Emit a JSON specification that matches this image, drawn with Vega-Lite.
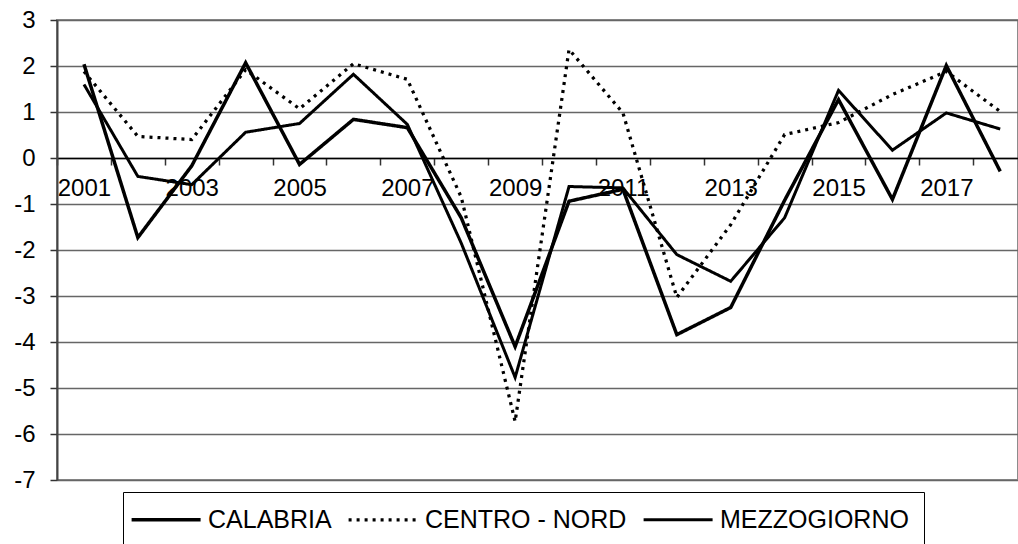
{
  "$schema": "https://vega.github.io/schema/vega-lite/v6.json",
  "autosize": {"type": "none"},
  "padding": {"left": 57, "top": 20, "right": 0, "bottom": 64},
  "width": 961,
  "height": 460,
  "background": "white",
  "config": {
    "font": "Liberation Sans",
    "view": {"stroke": "#8c8c8c", "strokeWidth": 2}
  },
  "data": {
    "values": [
      {"year": 2001, "series": "CALABRIA", "value": 2.04},
      {"year": 2002, "series": "CALABRIA", "value": -1.73},
      {"year": 2003, "series": "CALABRIA", "value": -0.17},
      {"year": 2004, "series": "CALABRIA", "value": 2.07},
      {"year": 2005, "series": "CALABRIA", "value": -0.14},
      {"year": 2006, "series": "CALABRIA", "value": 0.84},
      {"year": 2007, "series": "CALABRIA", "value": 0.66},
      {"year": 2008, "series": "CALABRIA", "value": -1.3},
      {"year": 2009, "series": "CALABRIA", "value": -4.1},
      {"year": 2010, "series": "CALABRIA", "value": -0.94},
      {"year": 2011, "series": "CALABRIA", "value": -0.68},
      {"year": 2012, "series": "CALABRIA", "value": -3.84},
      {"year": 2013, "series": "CALABRIA", "value": -3.25},
      {"year": 2014, "series": "CALABRIA", "value": -0.92},
      {"year": 2015, "series": "CALABRIA", "value": 1.27},
      {"year": 2016, "series": "CALABRIA", "value": -0.9},
      {"year": 2017, "series": "CALABRIA", "value": 2.01},
      {"year": 2018, "series": "CALABRIA", "value": -0.29},
      {"year": 2001, "series": "CENTRO - NORD", "value": 1.88},
      {"year": 2002, "series": "CENTRO - NORD", "value": 0.47},
      {"year": 2003, "series": "CENTRO - NORD", "value": 0.4},
      {"year": 2004, "series": "CENTRO - NORD", "value": 1.92},
      {"year": 2005, "series": "CENTRO - NORD", "value": 1.07},
      {"year": 2006, "series": "CENTRO - NORD", "value": 2.05},
      {"year": 2007, "series": "CENTRO - NORD", "value": 1.71},
      {"year": 2008, "series": "CENTRO - NORD", "value": -0.85},
      {"year": 2009, "series": "CENTRO - NORD", "value": -5.73},
      {"year": 2010, "series": "CENTRO - NORD", "value": 2.36},
      {"year": 2011, "series": "CENTRO - NORD", "value": 0.98},
      {"year": 2012, "series": "CENTRO - NORD", "value": -3.03},
      {"year": 2013, "series": "CENTRO - NORD", "value": -1.45},
      {"year": 2014, "series": "CENTRO - NORD", "value": 0.51},
      {"year": 2015, "series": "CENTRO - NORD", "value": 0.77},
      {"year": 2016, "series": "CENTRO - NORD", "value": 1.38},
      {"year": 2017, "series": "CENTRO - NORD", "value": 1.88},
      {"year": 2018, "series": "CENTRO - NORD", "value": 1.01},
      {"year": 2001, "series": "MEZZOGIORNO", "value": 1.6},
      {"year": 2002, "series": "MEZZOGIORNO", "value": -0.4},
      {"year": 2003, "series": "MEZZOGIORNO", "value": -0.58},
      {"year": 2004, "series": "MEZZOGIORNO", "value": 0.56},
      {"year": 2005, "series": "MEZZOGIORNO", "value": 0.75},
      {"year": 2006, "series": "MEZZOGIORNO", "value": 1.82},
      {"year": 2007, "series": "MEZZOGIORNO", "value": 0.73},
      {"year": 2008, "series": "MEZZOGIORNO", "value": -1.85},
      {"year": 2009, "series": "MEZZOGIORNO", "value": -4.77},
      {"year": 2010, "series": "MEZZOGIORNO", "value": -0.62},
      {"year": 2011, "series": "MEZZOGIORNO", "value": -0.65},
      {"year": 2012, "series": "MEZZOGIORNO", "value": -2.1},
      {"year": 2013, "series": "MEZZOGIORNO", "value": -2.68},
      {"year": 2014, "series": "MEZZOGIORNO", "value": -1.3},
      {"year": 2015, "series": "MEZZOGIORNO", "value": 1.47},
      {"year": 2016, "series": "MEZZOGIORNO", "value": 0.17},
      {"year": 2017, "series": "MEZZOGIORNO", "value": 0.98},
      {"year": 2018, "series": "MEZZOGIORNO", "value": 0.63}
    ]
  },
  "resolve": {"axis": {"x": "independent"}},
  "layer": [
    {
      "mark": {"type": "rule", "strokeOpacity": 0},
      "encoding": {
        "x": {
          "field": "year",
          "type": "quantitative",
          "scale": {"domain": [2000.5, 2018.33], "nice": false, "zero": false},
          "axis": {
            "title": null,
            "orient": "bottom",
            "values": [2000.5, 2001.5, 2002.5, 2003.5, 2004.5, 2005.5, 2006.5, 2007.5, 2008.5, 2009.5, 2010.5, 2011.5, 2012.5, 2013.5, 2014.5, 2015.5, 2016.5, 2017.5],
            "labels": false,
            "offset": -322,
            "domain": false,
            "tickColor": "#333333",
            "tickSize": 7,
            "tickWidth": 1.5,
            "grid": false
          }
        }
      }
    },
    {
      "mark": {"type": "line", "color": "black", "strokeCap": "butt", "strokeJoin": "miter"},
      "encoding": {
        "x": {
          "field": "year",
          "type": "quantitative",
          "scale": {"domain": [2000.5, 2018.33], "nice": false, "zero": false},
          "axis": {
            "title": null,
            "orient": "bottom",
            "values": [2001, 2003, 2005, 2007, 2009, 2011, 2013, 2015, 2017],
            "labelExpr": "'' + datum.value",
            "offset": -322,
            "domainColor": "black",
            "domainWidth": 1.5,
            "ticks": false,
            "labelFontSize": 24,
            "labelColor": "black",
            "labelPadding": 18,
            "labelOverlap": false,
            "labelFlush": false,
            "grid": false
          }
        },
        "y": {
          "field": "value",
          "type": "quantitative",
          "scale": {"domain": [-7, 3], "nice": false, "zero": false},
          "axis": {
            "title": null,
            "values": [-7, -6, -5, -4, -3, -2, -1, 0, 1, 2, 3],
            "labelExpr": "'' + datum.value",
            "tickSize": 7,
            "tickColor": "#333333",
            "tickWidth": 1.5,
            "domainColor": "#444444",
            "domainWidth": 2,
            "gridColor": "#666666",
            "gridWidth": 1.3,
            "labelFontSize": 24,
            "labelColor": "black",
            "labelPadding": 15,
            "labelOverlap": false
          }
        },
        "strokeDash": {
          "field": "series",
          "type": "nominal",
          "scale": {"domain": ["CALABRIA", "CENTRO - NORD", "MEZZOGIORNO"], "range": [[1, 0], [3, 5], [1, 0]]},
          "legend": {
            "title": null,
            "orient": "none",
            "legendX": 66,
            "legendY": 472,
            "direction": "horizontal",
            "strokeColor": "black",
            "fillColor": "white",
            "padding": 15,
            "symbolType": "M-2.7,0H7.157",
            "symbolSize": 196,
            "symbolStrokeColor": "black",
            "symbolFillColor": "transparent",
            "labelFontSize": 25,
            "labelColor": "black",
            "labelOffset": 45,
            "columnPadding": 10,
            "labelLimit": 0
          }
        },
        "strokeWidth": {
          "field": "series",
          "type": "nominal",
          "scale": {"domain": ["CALABRIA", "CENTRO - NORD", "MEZZOGIORNO"], "range": [3.5, 3, 2]},
          "legend": {
            "title": null,
            "orient": "none",
            "legendX": 66,
            "legendY": 472,
            "direction": "horizontal",
            "strokeColor": "black",
            "fillColor": "white",
            "padding": 15,
            "symbolType": "M-2.7,0H7.157",
            "symbolSize": 196,
            "symbolStrokeColor": "black",
            "symbolFillColor": "transparent",
            "labelFontSize": 25,
            "labelColor": "black",
            "labelOffset": 45,
            "columnPadding": 10,
            "labelLimit": 0
          }
        }
      }
    }
  ]
}
